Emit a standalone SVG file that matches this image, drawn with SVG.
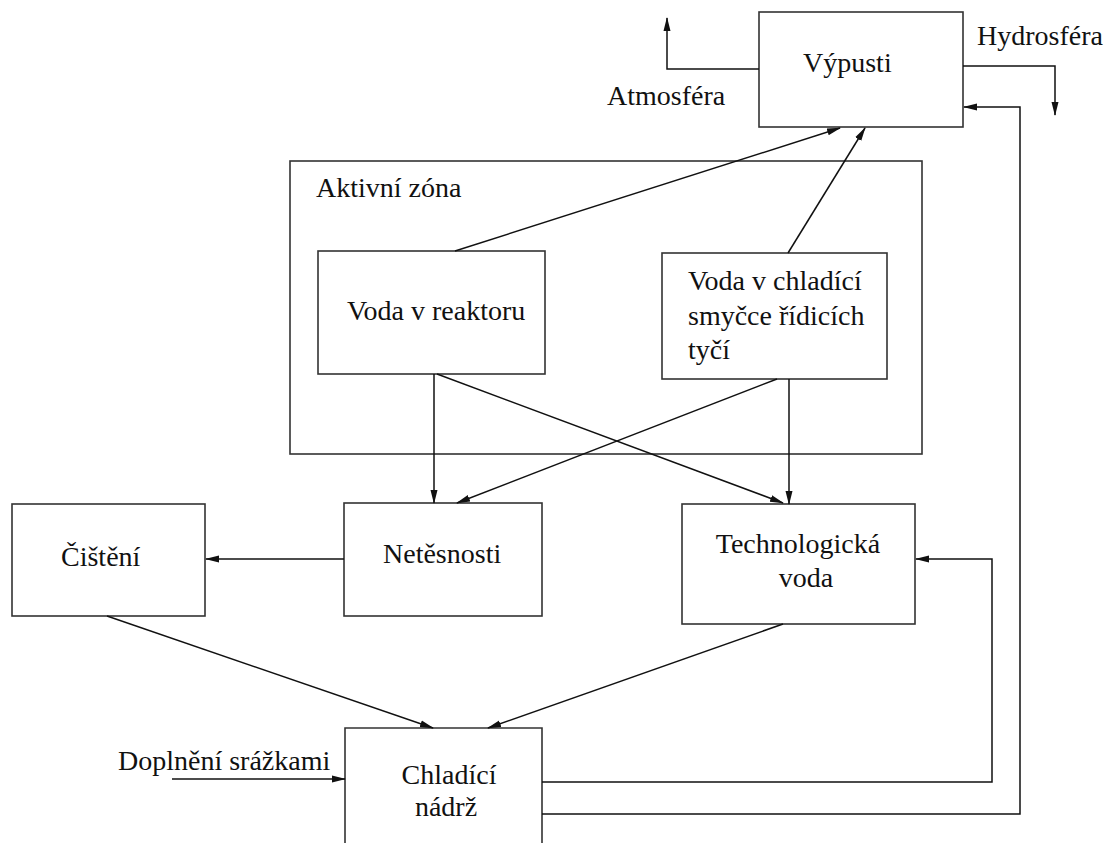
<svg xmlns="http://www.w3.org/2000/svg" width="1113" height="843" viewBox="0 0 1113 843">
<style>
  .box { fill: #fff; stroke: #333; stroke-width: 1.6; }
  .lbl { font-family: "Liberation Serif", "Times New Roman", serif; font-size: 28px; fill: #111; }
  .c { text-anchor: middle; }
  .ln { fill: none; stroke: #111; stroke-width: 1.5; }
  .arr { marker-end: url(#ah); }
</style>
<defs>
  <marker id="ah" markerUnits="userSpaceOnUse" markerWidth="14" markerHeight="10" viewBox="0 0 14 10" refX="13" refY="5" orient="auto">
    <path d="M0,1.5 L14,5 L0,8.5 Z" fill="#111"/>
  </marker>
</defs>
<rect width="1113" height="843" fill="#fff"/>

<g id="aktivni-zona">
  <rect class="box" x="290" y="161" width="632" height="293"/>
  <text class="lbl" x="316" y="197">Aktivní zóna</text>
</g>

<g id="vypusti">
  <rect class="box" x="759" y="12" width="204" height="115"/>
  <text class="lbl" x="803" y="72">Výpusti</text>
</g>

<g id="atmosfera">
  <text class="lbl" x="607" y="105">Atmosféra</text>
</g>

<g id="hydrosfera">
  <text class="lbl" x="977" y="45">Hydrosféra</text>
</g>

<g id="voda-reaktor">
  <rect class="box" x="318" y="251" width="227" height="123"/>
  <text class="lbl" x="347" y="320">Voda v reaktoru</text>
</g>

<g id="voda-smycka">
  <rect class="box" x="662" y="253" width="225" height="126"/>
  <text class="lbl" x="688" y="290">Voda v chladící</text>
  <text class="lbl" x="688" y="325">smyčce řídicích</text>
  <text class="lbl" x="688" y="359">tyčí</text>
</g>

<g id="cisteni">
  <rect class="box" x="12" y="504" width="193" height="112"/>
  <text class="lbl" x="61" y="566">Čištění</text>
</g>

<g id="netesnosti">
  <rect class="box" x="344" y="503" width="198" height="113"/>
  <text class="lbl" x="383" y="563">Netěsnosti</text>
</g>

<g id="technologicka-voda">
  <rect class="box" x="682" y="504" width="233" height="120"/>
  <text class="lbl c" x="798" y="553">Technologická</text>
  <text class="lbl c" x="806" y="587">voda</text>
</g>

<g id="chladici-nadrz">
  <path class="box" d="M345,850 V728 H542 V850"/>
  <text class="lbl c" x="449" y="784">Chladící</text>
  <text class="lbl c" x="446" y="816">nádrž</text>
</g>

<g id="doplneni">
  <text class="lbl" x="118" y="770">Doplnění srážkami</text>
</g>

<g id="connectors">
  <path class="ln arr" d="M759,69 H667 V18"/>
  <path class="ln arr" d="M963,66 H1055 V115"/>
  <path class="ln arr" d="M455,251 L840,128"/>
  <path class="ln arr" d="M788,253 L865,128"/>
  <path class="ln arr" d="M434,374 V503"/>
  <path class="ln arr" d="M437,374 L783,503"/>
  <path class="ln arr" d="M777,379 L457,503"/>
  <path class="ln arr" d="M789,379 V504"/>
  <path class="ln arr" d="M344,559 H206"/>
  <path class="ln arr" d="M107,616 L433,728"/>
  <path class="ln arr" d="M783,624 L488,728"/>
  <path class="ln arr" d="M172,779 H345"/>
  <path class="ln arr" d="M542,782 H992 V559 H916"/>
  <path class="ln arr" d="M542,814 H1020 V107 H964"/>
</g>
</svg>
